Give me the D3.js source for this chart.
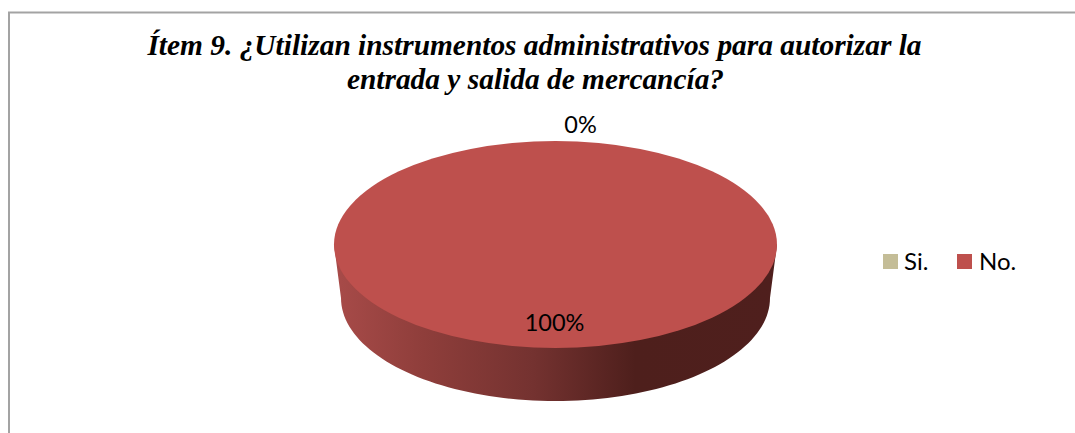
<!DOCTYPE html>
<html>
<head>
<meta charset="utf-8">
<script src="https://cdn.jsdelivr.net/npm/d3@7"></script>
<style>
  html, body { margin: 0; padding: 0; background: #fff; overflow: hidden; }
  svg { display: block; }
</style>
</head>
<body>
<svg id="chart" width="1075" height="433"></svg>
<script>
// Survey answers for item 9
const categories = ["Si.", "No."];
const values = [0, 100];
const sliceColors = ["#c4bd97", "#be504d"];
const titleLines = [
  "Ítem 9. ¿Utilizan instrumentos administrativos para autorizar la",
  "entrada y salida de mercancía?"
];

const svg = d3.select("#chart");
const labelFont = "Lato, 'Open Sans', sans-serif";

// Chart frame: open on the right and at the bottom
svg.append("path")
  .attr("d", d3.line()([[9, 433], [9, 12.5], [1075, 12.5]]))
  .attr("fill", "none")
  .attr("stroke", "#a3a3a3")
  .attr("stroke-width", 2);

// Title
const titleX = [534.5, 535.5];
const titleY = [55, 88.5];
svg.append("g").selectAll("text")
  .data(titleLines)
  .join("text")
  .attr("x", (d, i) => titleX[i])
  .attr("y", (d, i) => titleY[i])
  .attr("text-anchor", "middle")
  .attr("font-family", "'Liberation Serif', serif")
  .attr("font-weight", "bold")
  .attr("font-style", "italic")
  .attr("font-size", 29.4)
  .attr("fill", "#000")
  .text(d => d);

// Geometry of the tilted disc
const face = { cx: 555.5, cy: 244.5, rx: 221.5, ry: 103.5 };
const base = { cx: 555.5, cy: 298, rx: 214.5, ry: 103 };

// Side wall shading runs left to right across the rim
const defs = svg.append("defs");
const wallGradient = defs.append("linearGradient")
  .attr("id", "wallShade")
  .attr("gradientUnits", "userSpaceOnUse")
  .attr("x1", face.cx - face.rx).attr("x2", face.cx + face.rx)
  .attr("y1", 0).attr("y2", 0);
[[0, "#a84b49"], [0.2, "#8f3e3b"], [0.45, "#743230"], [0.68, "#4e1f1c"], [1, "#4f1f1d"]]
  .forEach(([o, c]) => wallGradient.append("stop").attr("offset", o).attr("stop-color", c));

// Side wall: lower half of the base ellipse joined to the widest points of the top face
const wallAngles = d3.range(0, 181, 2).map(d => d * Math.PI / 180);
const wallPoints = [[face.cx + face.rx, face.cy]]
  .concat(wallAngles.map(a => [base.cx + base.rx * Math.cos(a), base.cy + base.ry * Math.sin(a)]))
  .concat([[face.cx - face.rx, face.cy]]);
svg.append("path")
  .attr("d", d3.line()(wallPoints) + "Z")
  .attr("fill", "url(#wallShade)");

// Top face: pie slices squashed into an ellipse
const pie = d3.pie().sort(null).value(d => d);
const arc = d3.arc().innerRadius(0).outerRadius(face.rx);
svg.append("g")
  .attr("transform", `translate(${face.cx},${face.cy}) scale(1,${face.ry / face.rx})`)
  .selectAll("path")
  .data(pie(values))
  .join("path")
  .attr("d", arc)
  .attr("fill", (d, i) => sliceColors[i]);

// Percentage labels
const total = d3.sum(values);
const percent = d3.format(".0%");
const labelPositions = [[580.5, 133], [554.5, 331]];
svg.append("g").selectAll("text")
  .data(values)
  .join("text")
  .attr("x", (d, i) => labelPositions[i][0])
  .attr("y", (d, i) => labelPositions[i][1])
  .attr("text-anchor", "middle")
  .attr("font-family", labelFont)
  .attr("font-size", 23.5)
  .attr("fill", "#000")
  .text(d => percent(d / total));

// Legend
const legendX = [883, 957];
const legend = svg.append("g").selectAll("g")
  .data(categories)
  .join("g")
  .attr("transform", (d, i) => `translate(${legendX[i]},254)`);
legend.append("rect")
  .attr("width", 15).attr("height", 15)
  .attr("fill", (d, i) => sliceColors[i]);
legend.append("text")
  .attr("x", (d, i) => i ? 22 : 21)
  .attr("y", 15.5)
  .attr("font-family", labelFont)
  .attr("font-size", 24)
  .attr("fill", "#000")
  .text(d => d);
</script>
</body>
</html>
